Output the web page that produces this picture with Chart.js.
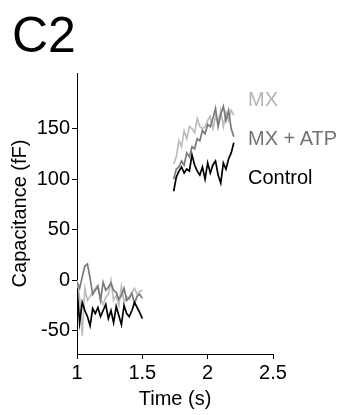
<!DOCTYPE html>
<html>
<head>
<meta charset="utf-8">
<script src="https://cdn.jsdelivr.net/npm/chart.js@4/dist/chart.umd.min.js"></script>
<style>
  html, body { margin: 0; padding: 0; background: #fff; }
  #wrap { position: relative; width: 346px; height: 415px; font-family: "Liberation Sans", Arial, sans-serif; }
  #chart { position: absolute; left: 0; top: 0; }
  .lbl { position: absolute; font-size: 20px; line-height: 20px; white-space: nowrap; }
  #panel { position: absolute; left: 12px; top: 10px; font-size: 50px; line-height: 50px; color: #000; }
</style>
</head>
<body>
<div id="wrap">
  <canvas id="chart" width="346" height="415"></canvas>
  <div id="panel">C2</div>
  <div class="lbl" style="left:248px; top:89px; color:#b4b4b4">MX</div>
  <div class="lbl" style="left:248px; top:128px; color:#737373">MX + ATP</div>
  <div class="lbl" style="left:248px; top:167px; color:#000">Control</div>
</div>
<script>
// Time points (s) of the two recording windows
const timesA = [1.00, 1.02, 1.04, 1.06, 1.08, 1.10, 1.12, 1.14, 1.16, 1.18,
  1.20, 1.22, 1.24, 1.26, 1.28, 1.30, 1.32, 1.34, 1.36, 1.38,
  1.40, 1.42, 1.44, 1.46, 1.48, 1.50];
const timesB = [1.74, 1.76, 1.78, 1.80, 1.82, 1.84, 1.86, 1.88, 1.90, 1.92,
  1.94, 1.96, 1.98, 2.00, 2.02, 2.04, 2.06, 2.08, 2.10, 2.12,
  2.14, 2.16, 2.18, 2.20];

// Capacitance (fF)
const controlA = [-8, -42, -22, -30, -36, -45, -28, -33, -27, -36,
  -30, -24, -38, -30, -42, -26, -35, -44, -25, -33,
  -36, -30, -22, -27, -32, -38];
const controlB = [88, 102, 108, 112, 106, 110, 108, 124, 114, 108,
  104, 112, 100, 116, 106, 114, 118, 104, 96, 116,
  110, 120, 126, 136];

const mxAtpA = [-2, -8, 3, 14, 16, 2, -14, -10, -6, -20,
  -2, -10, -7, -3, -10, -12, -19, -15, -8, -20,
  -17, -13, -23, -16, -14, -18];
const mxAtpB = [100, 110, 112, 118, 114, 126, 122, 132, 130, 140,
  138, 148, 145, 154, 152, 160, 170, 152, 164, 172,
  158, 168, 150, 142];

const mxA = [0, -18, -55, -8, -20, -16, -12, -8, -5, -18,
  -24, -17, -14, 0, -20, -15, -25, -6, -22, -16,
  -19, -12, -8, -14, -11, -10];
const mxB = [115, 122, 138, 132, 148, 140, 152, 150, 146, 160,
  152, 150, 152, 158, 162, 150, 162, 156, 168, 152,
  166, 158, 168, 163];

const xTicks = [1, 1.5, 2, 2.5];
const yTicks = [-50, 0, 50, 100, 150];

function toPoints(a, b) {
  const pts = timesA.map((t, i) => ({ x: t, y: a[i] }));
  pts.push({ x: 1.62, y: null });
  return pts.concat(timesB.map((t, i) => ({ x: t, y: b[i] })));
}

const FONT = { family: "'Liberation Sans', Arial, sans-serif", size: 20 };

function line(label, a, b, color, width) {
  return {
    label: label,
    data: toPoints(a, b),
    borderColor: color,
    borderWidth: width,
    pointRadius: 0,
    tension: 0,
    spanGaps: false,
  };
}

new Chart(document.getElementById("chart"), {
  type: "line",
  data: {
    datasets: [
      line("Control", controlA, controlB, "#000000", 1.7),
      line("MX + ATP", mxAtpA, mxAtpB, "#7a7a7a", 1.7),
      line("MX", mxA, mxB, "#bdbdbd", 1.7),
    ],
  },
  options: {
    responsive: false,
    animation: false,
    layout: { padding: { left: 0, top: 73, right: 73, bottom: 0 } },
    plugins: { legend: { display: false }, tooltip: { enabled: false } },
    scales: {
      x: {
        type: "linear",
        min: 1,
        max: 2.5,
        afterBuildTicks: s => { s.ticks = xTicks.map(v => ({ value: v })); },
        afterFit: s => { s.height = 61; },
        ticks: { color: "#000", font: FONT, padding: 2, maxRotation: 0, callback: v => String(v) },
        grid: { drawOnChartArea: false, drawTicks: true, tickLength: 5, tickColor: "#000", tickWidth: 1 },
        border: { color: "#000", width: 1 },
        title: { display: true, text: "Time (s)", color: "#000", font: FONT, padding: { top: 0, bottom: 4 } },
      },
      y: {
        min: -73,
        max: 205,
        afterBuildTicks: s => { s.ticks = yTicks.map(v => ({ value: v })); },
        afterFit: s => { s.width = 77; },
        ticks: { color: "#000", font: FONT, padding: 2, callback: v => String(v) },
        grid: { drawOnChartArea: false, drawTicks: true, tickLength: 5, tickColor: "#000", tickWidth: 1 },
        border: { color: "#000", width: 1 },
        title: { display: true, text: "Capacitance (fF)", color: "#000", font: FONT, padding: { top: 8, bottom: 0 } },
      },
    },
  },
});
</script>
</body>
</html>
